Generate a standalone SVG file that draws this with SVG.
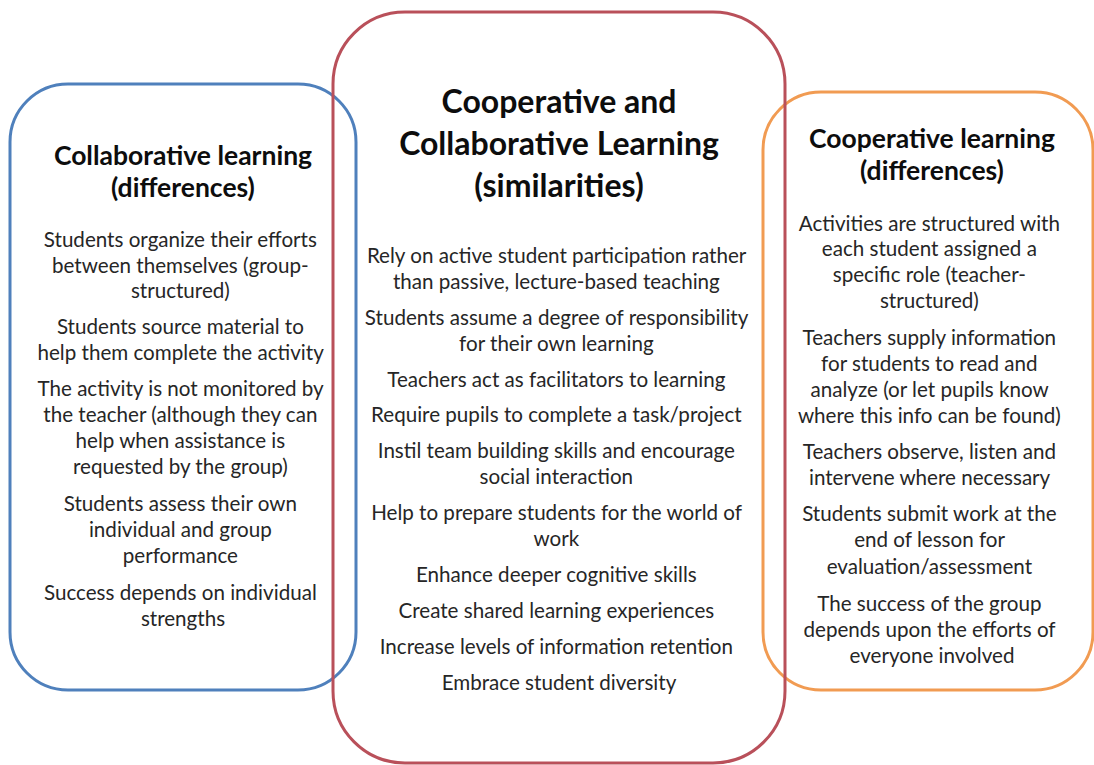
<svg xmlns="http://www.w3.org/2000/svg" width="1094" height="765" viewBox="0 0 1094 765">
<style>
.box{fill:none;stroke-width:3}
.title{font-family:Lato,"Liberation Sans",sans-serif;font-weight:bold;fill:#0d0d0d;text-anchor:middle}
.t1{font-size:26.5px}
.t2{font-size:32px}
.body{font-family:Lato,"Liberation Sans",sans-serif;font-size:20.6px;fill:#262626;text-anchor:middle}
</style>
<rect width="1094" height="765" fill="#ffffff"/>
<g id="collaborative">
<rect class="box" x="10" y="84" width="346" height="606" rx="58" ry="58" stroke="#4f80bc"/>
<text class="title t1"><tspan x="183" y="165">Collaborative learning</tspan><tspan x="183" y="197">(differences)</tspan></text>
<text class="body">
<tspan x="183" y="247">Students organize their efforts</tspan>
<tspan x="183" y="272.5">between themselves (group-</tspan>
<tspan x="183" y="298">structured)</tspan>
<tspan x="183" y="334">Students source material to</tspan>
<tspan x="183" y="360">help them complete the activity</tspan>
<tspan x="183" y="396">The activity is not monitored by</tspan>
<tspan x="183" y="422">the teacher (although they can</tspan>
<tspan x="183" y="448">help when assistance is</tspan>
<tspan x="183" y="474">requested by the group)</tspan>
<tspan x="183" y="511">Students assess their own</tspan>
<tspan x="183" y="537">individual and group</tspan>
<tspan x="183" y="563">performance</tspan>
<tspan x="183" y="600">Success depends on individual</tspan>
<tspan x="183" y="626">strengths</tspan>
</text>
</g>
<g id="cooperative">
<rect class="box" x="763" y="92" width="330" height="598" rx="58" ry="58" stroke="#f19b52"/>
<text class="title t1"><tspan x="932" y="148">Cooperative learning</tspan><tspan x="932" y="180">(differences)</tspan></text>
<text class="body">
<tspan x="932" y="231">Activities are structured with</tspan>
<tspan x="932" y="256">each student assigned a</tspan>
<tspan x="932" y="282">specific role (teacher-</tspan>
<tspan x="932" y="308">structured)</tspan>
<tspan x="932" y="345">Teachers supply information</tspan>
<tspan x="932" y="371">for students to read and</tspan>
<tspan x="932" y="397">analyze (or let pupils know</tspan>
<tspan x="932" y="423">where this info can be found)</tspan>
<tspan x="932" y="459">Teachers observe, listen and</tspan>
<tspan x="932" y="485">intervene where necessary</tspan>
<tspan x="932" y="521">Students submit work at the</tspan>
<tspan x="932" y="547">end of lesson for</tspan>
<tspan x="932" y="574">evaluation/assessment</tspan>
<tspan x="932" y="611">The success of the group</tspan>
<tspan x="932" y="637">depends upon the efforts of</tspan>
<tspan x="932" y="663">everyone involved</tspan>
</text>
</g>
<g id="similarities">
<rect class="box" x="333" y="12" width="452" height="751" rx="72" ry="72" stroke="#b9505a"/>
<text class="title t2"><tspan x="559" y="113">Cooperative and</tspan><tspan x="559" y="155">Collaborative Learning</tspan><tspan x="559" y="197">(similarities)</tspan></text>
<text class="body">
<tspan x="559" y="263">Rely on active student participation rather</tspan>
<tspan x="559" y="289">than passive, lecture-based teaching</tspan>
<tspan x="559" y="325">Students assume a degree of responsibility</tspan>
<tspan x="559" y="351">for their own learning</tspan>
<tspan x="559" y="387">Teachers act as facilitators to learning</tspan>
<tspan x="559" y="422">Require pupils to complete a task/project</tspan>
<tspan x="559" y="458">Instil team building skills and encourage</tspan>
<tspan x="559" y="484">social interaction</tspan>
<tspan x="559" y="520">Help to prepare students for the world of</tspan>
<tspan x="559" y="546">work</tspan>
<tspan x="559" y="582">Enhance deeper cognitive skills</tspan>
<tspan x="559" y="618">Create shared learning experiences</tspan>
<tspan x="559" y="654">Increase levels of information retention</tspan>
<tspan x="559" y="690">Embrace student diversity</tspan>
</text>
</g>
<g id="connectors"></g>
</svg>
